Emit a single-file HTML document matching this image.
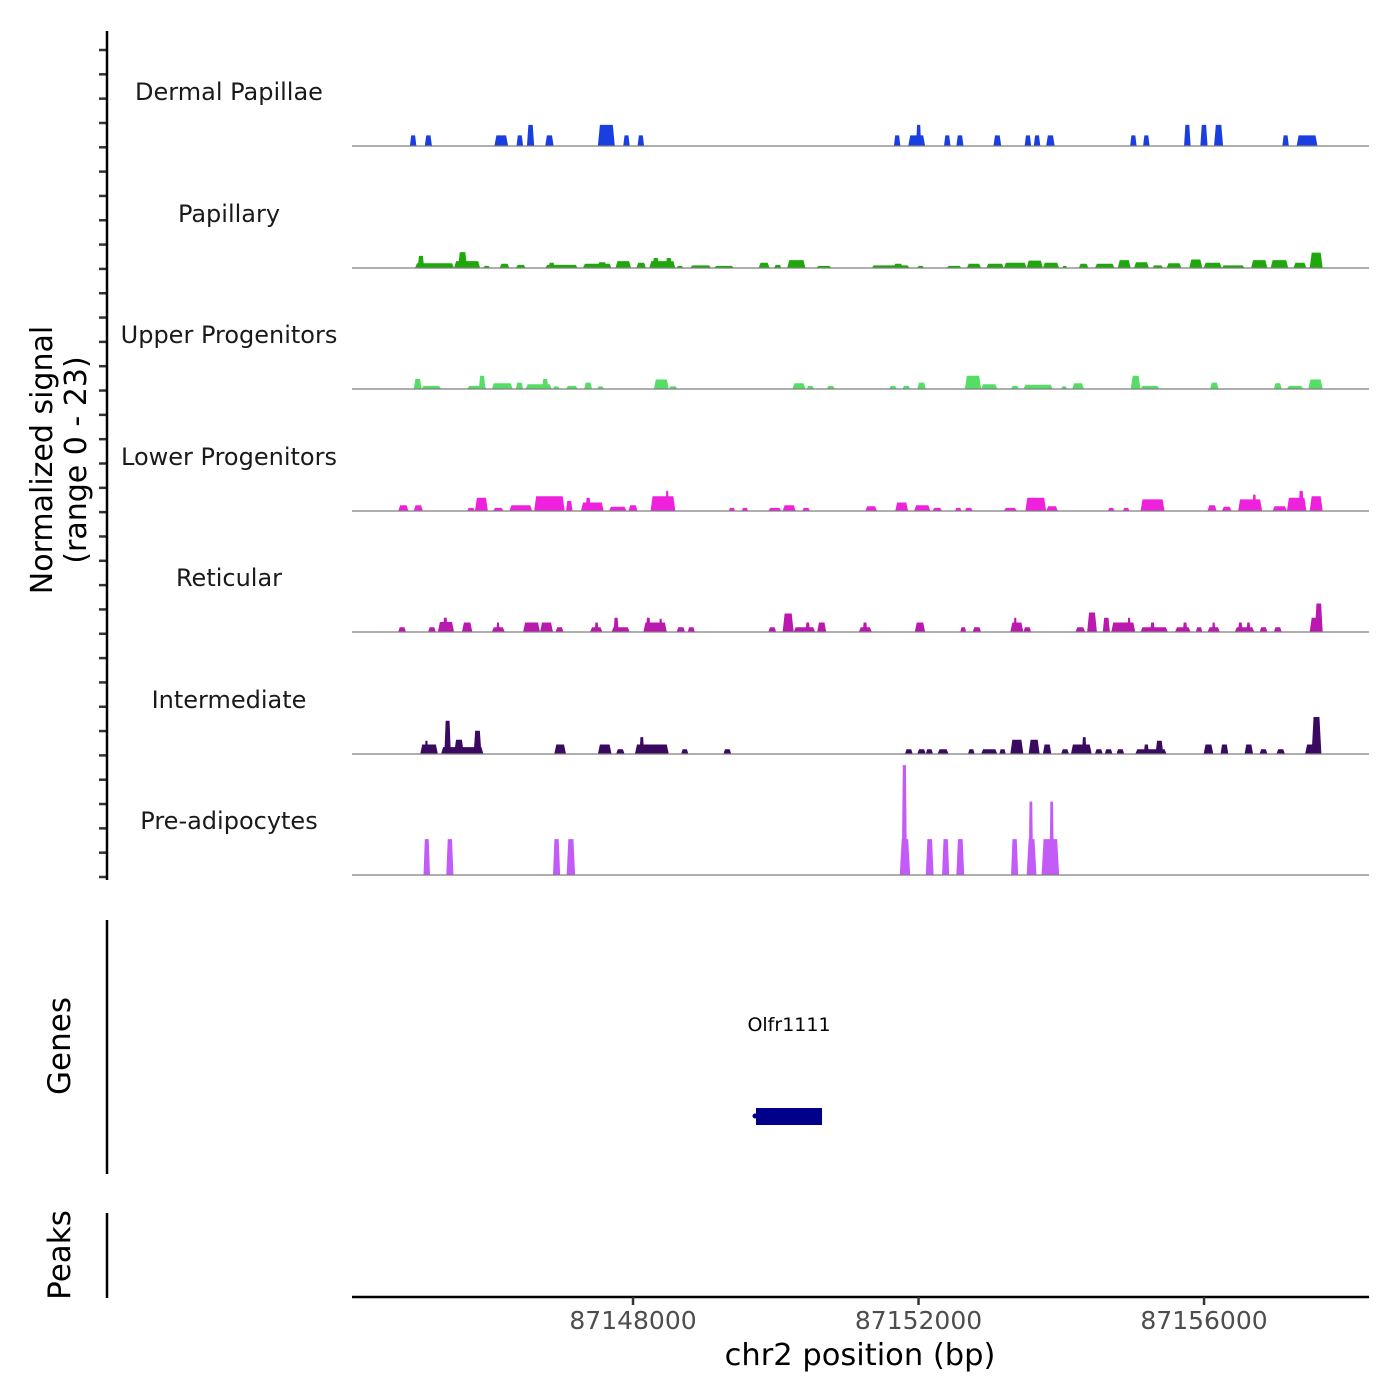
<!DOCTYPE html>
<html><head><meta charset="utf-8"><style>
html,body{margin:0;padding:0;background:#fff;}
svg{display:block;font-family:"DejaVu Sans","Liberation Sans",sans-serif;}
</style></head><body>
<svg id="chart" width="1400" height="1400" viewBox="0 0 1400 1400" xmlns="http://www.w3.org/2000/svg">
<rect width="1400" height="1400" fill="#fff"/>
<g id="tracks"></g>
<g id="leftaxis"></g>
<line x1="107" y1="31" x2="107" y2="880" stroke="#000" stroke-width="2.5"/>
<text transform="translate(52,460) rotate(-90)" text-anchor="middle" font-size="30" fill="#000">Normalized signal</text>
<text transform="translate(86,460) rotate(-90)" text-anchor="middle" font-size="30" fill="#000">(range 0 - 23)</text>
<line x1="107" y1="920" x2="107" y2="1174" stroke="#000" stroke-width="2.5"/>
<text transform="translate(70,1046) rotate(-90)" text-anchor="middle" font-size="31" fill="#000">Genes</text>
<line x1="107" y1="1213" x2="107" y2="1298" stroke="#000" stroke-width="2.5"/>
<text transform="translate(70,1255) rotate(-90)" text-anchor="middle" font-size="31" fill="#000">Peaks</text>
<g id="genes"></g>
<line x1="352" y1="1297" x2="1369" y2="1297" stroke="#000" stroke-width="2.5"/>
<g id="xaxis"></g>
<text x="860" y="1365" text-anchor="middle" font-size="30.5" fill="#000">chr2 position (bp)</text>
</svg>
<script>
const REGION_START = 87144000;
const xTicks = [87148000, 87152000, 87156000];
const trackNames = ["Dermal Papillae","Papillary","Upper Progenitors","Lower Progenitors","Reticular","Intermediate","Pre-adipocytes"];
const trackColors = ["#1a3fe0","#1fa80b","#55dd66","#ee22dd","#bb18b0","#3a0a60","#c25bf7"];
const yMax = 23;
// [startOffsetBp, endOffsetBp, signal]
const dermalPapillae = [[874,965,2],[1083,1183,2],[2058,2250,2],[2368,2460,2],[2514,2615,4],[2770,2888,2],[3508,3745,4],[3863,3954,2],[4064,4155,2],[7655,7746,2],[7856,8093,2],[7965,8038,4],[8357,8448,2],[8530,8630,2],[9050,9159,2],[9487,9578,2],[9615,9706,2],[9788,9907,2],[10964,11055,2],[11146,11237,2],[11720,11812,4],[11948,12049,4],[12140,12267,4],[13097,13188,2],[13297,13589,2]];
const papillary = [[946,1493,0.9],[983,1074,2.3],[1493,1858,1.3],[1548,1676,3],[1904,1995,0.4],[2131,2268,0.8],[2359,2496,0.6],[2770,3225,0.6],[2815,2906,1],[3298,3699,0.8],[3499,3635,1.1],[3754,3973,1.3],[4046,4182,1],[4228,4593,1.3],[4273,4365,1.9],[4456,4547,1.9],[4611,4702,0.4],[4802,5094,0.5],[5139,5413,0.4],[5759,5914,1],[5978,6078,0.6],[6160,6416,1.5],[6570,6780,0.4],[7345,7874,0.5],[7646,7783,0.8],[7983,8074,0.4],[8393,8603,0.4],[8676,8877,0.8],[8949,9196,0.8],[9196,9515,1],[9515,9742,1.4],[9742,9970,1],[10016,10080,0.4],[10244,10380,0.8],[10471,10745,0.8],[10791,10973,1.5],[11019,11228,1.1],[11274,11429,0.5],[11475,11684,0.9],[11793,11976,1.6],[11994,12249,1],[12249,12568,0.5],[12659,12887,1.5],[12933,13179,1.5],[13252,13434,1],[13480,13662,2.9]];
const upperProgenitors = [[928,1038,1.9],[1038,1311,0.6],[1676,1949,0.6],[1840,1931,2.5],[2022,2314,1.1],[2359,2460,1.2],[2496,2861,0.9],[2724,2815,1.9],[2879,2970,0.5],[3061,3225,0.6],[3316,3426,1.2],[3499,3590,0.5],[4292,4501,1.8],[4501,4620,0.5],[6233,6416,1.1],[6434,6534,0.6],[6716,6826,0.6],[7591,7692,0.6],[7774,7883,0.6],[7983,8102,1.2],[8649,8877,2.5],[8877,9104,0.9],[9296,9405,0.6],[9469,9879,0.8],[9998,10080,0.5],[10153,10317,1.1],[10973,11110,2.5],[11110,11374,0.6],[12085,12203,1.2],[12978,13088,1.1],[13161,13389,0.6],[13461,13662,1.8]];
const lowerProgenitors = [[710,855,1.1],[928,1056,1.1],[1676,1785,0.6],[1785,1967,2.5],[2040,2186,0.6],[2268,2587,1.1],[2615,3043,2.8],[3061,3152,1.9],[3271,3590,1.6],[3335,3408,2.5],[3663,3909,0.8],[3936,4064,1.1],[4246,4593,2.8],[4456,4501,3.8],[5340,5431,0.6],[5522,5613,0.6],[5896,6078,0.6],[6096,6279,1.1],[6370,6479,0.6],[7254,7418,0.9],[7673,7855,1.6],[7938,8166,1.1],[8193,8330,0.6],[8512,8603,0.6],[8649,8758,0.6],[9196,9378,0.6],[9496,9788,2.5],[9788,9952,0.9],[10654,10745,0.6],[10864,10955,0.6],[11110,11447,2.2],[12049,12176,1.1],[12249,12386,0.8],[12477,12814,2.2],[12677,12732,3.1],[12960,13161,0.9],[13161,13434,2.5],[13325,13397,3.8],[13480,13662,2.8]];
const reticular = [[710,819,0.9],[1129,1238,0.9],[1266,1493,1.9],[1338,1402,2.7],[1603,1749,1.8],[2022,2204,0.9],[2086,2131,1.8],[2460,2697,1.8],[2697,2879,1.8],[2915,3025,0.9],[3398,3572,0.9],[3462,3517,1.8],[3699,3954,0.9],[3727,3799,2.7],[4146,4474,1.8],[4182,4246,2.7],[4365,4410,2.5],[4611,4729,0.9],[4766,4866,0.9],[5896,6005,0.9],[6096,6251,3.5],[6251,6552,0.9],[6416,6479,1.8],[6580,6707,1.8],[7163,7345,0.9],[7218,7282,1.8],[7947,8093,1.8],[8585,8667,0.9],[8758,8877,0.9],[9286,9469,1.8],[9332,9378,2.7],[9469,9578,0.9],[10198,10335,0.9],[10362,10499,3.7],[10581,10681,2.7],[10700,11037,1.8],[10927,10973,2.7],[11110,11493,0.9],[11246,11310,1.8],[11593,11812,0.9],[11702,11766,1.8],[11885,11976,0.9],[12049,12222,0.9],[12112,12158,1.8],[12431,12704,0.9],[12477,12541,1.8],[12595,12650,1.8],[12778,12887,0.9],[12978,13088,0.9],[13480,13662,2.7],[13553,13662,5.4]];
const intermediate = [[1019,1266,1.8],[1083,1129,2.5],[1174,1220,1.8],[1311,1904,1.3],[1357,1448,6.3],[1493,1630,2.7],[1767,1876,4.4],[2897,3061,1.8],[3508,3699,1.8],[3763,3882,0.9],[4027,4501,1.8],[4091,4155,3.2],[4273,4337,1.8],[4675,4775,0.9],[5267,5376,0.9],[7810,7919,0.9],[7983,8102,0.9],[8102,8202,0.9],[8266,8421,0.9],[8694,8785,0.9],[8877,9104,0.9],[9132,9223,0.9],[9286,9469,2.7],[9542,9697,2.7],[9742,9861,1.8],[9998,10107,0.9],[10135,10426,1.8],[10290,10353,3.2],[10471,10581,0.9],[10608,10718,0.9],[10773,10882,0.9],[11037,11475,0.9],[11155,11228,1.8],[11320,11429,2.5],[11994,12130,1.8],[12231,12340,1.8],[12568,12687,1.8],[12778,12887,0.9],[13015,13133,0.9],[13416,13644,1.8],[13507,13644,7]];
const preAdipocytes = [[1065,1156,6.8],[1384,1484,6.8],[2879,2979,6.8],[3070,3189,6.8],[7737,7883,6.8],[7765,7838,20.8],[8102,8211,6.8],[8330,8430,6.8],[8530,8640,6.8],[9296,9396,6.8],[9515,9652,6.8],[9542,9606,13.9],[9724,9970,6.8],[9834,9897,13.9]];
const trackData = [dermalPapillae,papillary,upperProgenitors,lowerProgenitors,reticular,intermediate,preAdipocytes];
const geneNames = ["Olfr1111"];
const geneStarts = [5723];
const geneEnds = [6648];

const NS = "http://www.w3.org/2000/svg";
const X0 = 352, X1 = 1368;
const bpMin = 87144063, bpMax = 87158297;
function xScale(bp){ return X0 + (bp - bpMin) / (bpMax - bpMin) * (X1 - X0); }
const baselines = [146,268,389,511,632,754,875];
const trackH = 121.5;
function yScale(v, i){ return baselines[i] - v / yMax * trackH; }
function mk(tag, attrs, parent){ const e = document.createElementNS(NS, tag); for (const k in attrs) e.setAttribute(k, attrs[k]); parent.appendChild(e); return e; }

const tracksG = document.getElementById('tracks');
trackData.forEach((arr, i) => {
  const g = mk('g', {}, tracksG);
  
  
  const lab = mk('text', {x:229, y:baselines[i]-46, 'text-anchor':'middle', 'font-size':24, fill:'#1a1a1a'}, g);
  lab.textContent = trackNames[i];
  
  
  arr.forEach(d => {
    const xs = xScale(REGION_START + d[0]), xe = xScale(REGION_START + d[1]);
    const w = xe - xs, t = Math.min(w * 0.2, 2);
    const yb = baselines[i], yt = yScale(d[2], i);
    const p = mk('polygon', {points: `${xs},${yb} ${xs+t},${yt} ${xe-t},${yt} ${xe},${yb}`, fill: trackColors[i]}, g);
    
    
  });
  const bl = mk('line', {x1:X0, y1:baselines[i], x2:X1+1, y2:baselines[i], stroke:'#7f7f7f', 'stroke-width':1.3}, g);
  
  
});

const la = document.getElementById('leftaxis');
for (let k = 0; k <= 34; k++) {
  const y = 50 + k * (877 - 50) / 34;
  const t = mk('line', {x1:99, y1:y, x2:107, y2:y, stroke:'#333', 'stroke-width':2.5}, la);
  
  
}

const gg = document.getElementById('genes');
geneNames.forEach((n, i) => {
  const xs = xScale(REGION_START + geneStarts[i]), xe = xScale(REGION_START + geneEnds[i]);
  const r = mk('rect', {x:xs, y:1108, width:xe-xs, height:17, fill:'#00008b'}, gg);
  
  
  const a = mk('circle', {cx:xs-1, cy:1116, r:2.5, fill:'#00008b'}, gg);
  
  
  const t = mk('text', {x:(xs+xe)/2, y:1031, 'text-anchor':'middle', 'font-size':19, fill:'#000'}, gg);
  t.textContent = n;
  
  
});

const xa = document.getElementById('xaxis');
xTicks.forEach(v => {
  const x = xScale(v);
  const l = mk('line', {x1:x, y1:1297, x2:x, y2:1305, stroke:'#333', 'stroke-width':2.5}, xa);
  
  
  const t = mk('text', {x:x, y:1329, 'text-anchor':'middle', 'font-size':25, fill:'#4d4d4d'}, xa);
  t.textContent = String(v);
  
  
});
</script>
</body></html>
